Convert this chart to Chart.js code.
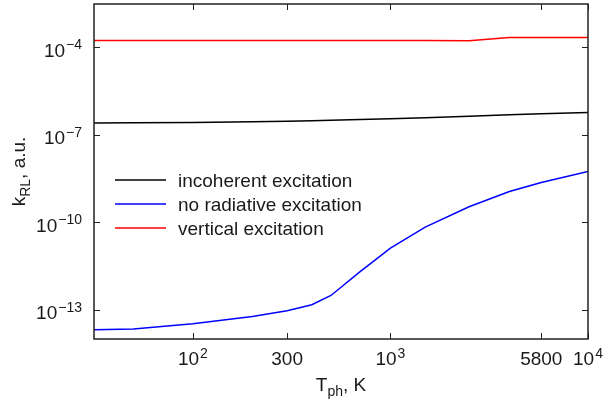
<!DOCTYPE html>
<html>
<head>
<meta charset="utf-8">
<script src="https://cdn.jsdelivr.net/npm/chart.js@4/dist/chart.umd.min.js"></script>
<style>
    body { margin: 0; background: #fff; }
    #wrap { width: 603px; height: 402px; }
</style>
</head>
<body>
<div id="wrap"><canvas id="myChart" width="603" height="402"></canvas></div>
<script>

// ============================================
// DATA
// ============================================

const temps = [31.6, 50, 100, 200, 300, 400, 500, 700, 1000, 1500, 2500, 4000, 5800, 10000];

const incoherent = [2.52e-7, 2.55e-7, 2.6e-7, 2.75e-7, 2.9e-7, 3.0e-7, 3.1e-7, 3.3e-7, 3.5e-7, 3.8e-7, 4.3e-7, 4.8e-7, 5.2e-7, 5.8e-7];

const noRadiative = [2.06e-14, 2.2e-14, 3.3e-14, 5.9e-14, 9.3e-14, 1.5e-13, 3.1e-13, 2.0e-12, 1.3e-11, 6.8e-11, 3.4e-10, 1.13e-9, 2.3e-9, 5.5e-9];

const vertical = [1.7e-4, 1.7e-4, 1.7e-4, 1.7e-4, 1.7e-4, 1.7e-4, 1.7e-4, 1.7e-4, 1.7e-4, 1.7e-4, 1.66e-4, 2.15e-4, 2.15e-4, 2.15e-4];

const seriesLabels = ['incoherent excitation', 'no radiative excitation', 'vertical excitation'];
const seriesColors = ['#000000', '#0000ff', '#ff0000'];

// tick label as [base, exponent] (exponent empty = plain number)
const xTicks = [100, 300, 1000, 5800, 10000];
const xTickLabels = [['10', '2'], ['300', ''], ['10', '3'], ['5800', ''], ['10', '4']];

const yTicks = [1e-4, 1e-7, 1e-10, 1e-13];
const yTickLabels = [['10', '\u22124'], ['10', '\u22127'], ['10', '\u221210'], ['10', '\u221213']];

const FONT = "'Liberation Sans', Arial, sans-serif";
const BIG = '19px ' + FONT;
const SMALL = '14px ' + FONT;
const TEXT = '#1a1a1a';

function toPoints(ys) {
    return temps.map((t, i) => ({ x: t, y: ys[i] }));
}

// draws "base^exp"; align = 'center' | 'right'
function drawPow(c, base, exp, x, y, align) {
    c.font = BIG;
    const wb = c.measureText(base).width;
    c.font = SMALL;
    const we = exp ? c.measureText(exp).width + 1 : 0;
    const total = wb + we;
    let x0 = align === 'right' ? x - total : x - total / 2;
    c.textAlign = 'left';
    c.textBaseline = 'alphabetic';
    c.font = BIG;
    c.fillText(base, x0, y);
    if (exp) {
        c.font = SMALL;
        c.fillText(exp, x0 + wb + 1, y - 7.5);
    }
}

// ============================================
// PLUGIN: frame, inward ticks, labels, legend
// ============================================

const framePlugin = {
    id: 'frame',
    afterDraw(chart) {
        const c = chart.ctx;
        const a = chart.chartArea;
        const xs = chart.scales.x;
        const ys = chart.scales.y;
        const tl = 6;

        c.save();
        c.strokeStyle = '#222';
        c.lineWidth = 1.5;
        c.strokeRect(a.left, a.top, a.right - a.left, a.bottom - a.top);

        c.lineWidth = 1;
        c.beginPath();
        xTicks.forEach(v => {
            const px = Math.round(xs.getPixelForValue(v)) + 0.5;
            c.moveTo(px, a.bottom); c.lineTo(px, a.bottom - tl);
            c.moveTo(px, a.top); c.lineTo(px, a.top + tl);
        });
        yTicks.forEach(v => {
            const py = Math.round(ys.getPixelForValue(v)) + 0.5;
            c.moveTo(a.left, py); c.lineTo(a.left + tl, py);
            c.moveTo(a.right, py); c.lineTo(a.right - tl, py);
        });
        c.stroke();

        c.fillStyle = TEXT;
        xTicks.forEach((v, i) => {
            drawPow(c, xTickLabels[i][0], xTickLabels[i][1], xs.getPixelForValue(v), a.bottom + 26, 'center');
        });
        yTicks.forEach((v, i) => {
            drawPow(c, yTickLabels[i][0], yTickLabels[i][1], a.left - 12, ys.getPixelForValue(v) + 9.4, 'right');
        });

        // x axis title: T_ph, K
        c.textAlign = 'left';
        c.textBaseline = 'alphabetic';
        c.font = BIG;
        const wT = c.measureText('T').width;
        const wK = c.measureText(', K').width;
        c.font = SMALL;
        const wS = c.measureText('ph').width;
        let tx = (a.left + a.right) / 2 - (wT + wS + wK) / 2;
        const ty = a.bottom + 52;
        c.font = BIG;
        c.fillText('T', tx, ty);
        c.font = SMALL;
        c.fillText('ph', tx + wT, ty + 5);
        c.font = BIG;
        c.fillText(', K', tx + wT + wS, ty);

        // y axis title: k_RL, a.u.
        c.save();
        c.translate(25, (a.top + a.bottom) / 2);
        c.rotate(-Math.PI / 2);
        c.font = BIG;
        const wk = c.measureText('k').width;
        const wa = c.measureText(', a.u.').width;
        c.font = SMALL;
        const wr = c.measureText('RL').width;
        let yx = -(wk + wr + wa) / 2;
        c.font = BIG;
        c.fillText('k', yx, 0);
        c.font = SMALL;
        c.fillText('RL', yx + wk, 5);
        c.font = BIG;
        c.fillText(', a.u.', yx + wk + wr, 0);
        c.restore();

        // legend
        c.font = BIG;
        seriesLabels.forEach((lab, i) => {
            const ly = 180 + i * 24;
            c.strokeStyle = seriesColors[i];
            c.lineWidth = 1.5;
            c.beginPath();
            c.moveTo(115, ly); c.lineTo(166, ly);
            c.stroke();
            c.fillStyle = TEXT;
            c.fillText(lab, 178, ly + 6.5);
        });

        c.restore();
    }
};

// ============================================
// CREATE CHART
// ============================================

const ctx = document.getElementById('myChart');

new Chart(ctx, {
    type: 'scatter',
    data: {
        datasets: [incoherent, noRadiative, vertical].map((ys, i) => ({
            label: seriesLabels[i],
            data: toPoints(ys),
            showLine: true,
            borderColor: seriesColors[i],
            backgroundColor: seriesColors[i],
            borderWidth: 1.5,
            pointRadius: 0,
            tension: 0
        }))
    },
    options: {
        responsive: false,
        animation: false,
        events: [],
        layout: { padding: { left: 94, right: 15, top: 4, bottom: 63 } },
        plugins: {
            legend: { display: false },
            tooltip: { enabled: false }
        },
        scales: {
            x: { type: 'logarithmic', min: 31.6, max: 10000, display: false },
            y: { type: 'logarithmic', min: 1e-14, max: 3e-3, display: false }
        }
    },
    plugins: [framePlugin]
});
</script>
</body>
</html>
